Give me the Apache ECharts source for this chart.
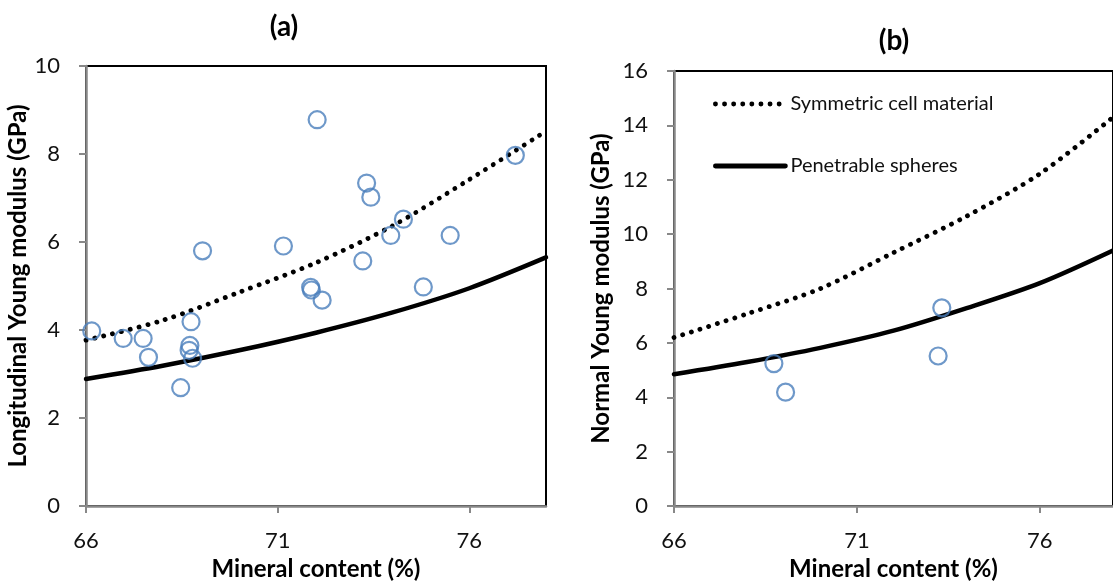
<!DOCTYPE html>
<html><head><meta charset="utf-8">
<script src="https://cdn.jsdelivr.net/npm/echarts@6/dist/echarts.min.js"></script>
<style>html,body{margin:0;padding:0;background:#fff}#c{width:1113px;height:586px}</style>
</head><body><div id="c"></div>
<script>
// Model curves (sampled every 2 % mineral content)
const modelX = [66, 68, 70, 72, 74, 76, 78];
const aSymmetric = [3.77, 4.22, 4.86, 5.53, 6.37, 7.42, 8.52];
const aPenetrable = [2.89, 3.19, 3.54, 3.94, 4.40, 4.95, 5.65];
const bSymmetric = [6.20, 7.07, 8.00, 9.32, 10.66, 12.22, 14.30];
const bPenetrable = [4.85, 5.30, 5.82, 6.45, 7.28, 8.20, 9.40];
// Measurements
const aMeasuredX = [66.15, 66.97, 67.49, 67.63, 68.47, 68.74, 68.71, 68.69, 68.78, 69.04, 71.15, 71.86, 71.88, 72.16, 72.03, 73.22, 73.32, 73.43, 73.95, 74.28, 74.80, 75.50, 77.20];
const aMeasuredY = [3.98, 3.81, 3.81, 3.38, 2.69, 4.19, 3.65, 3.54, 3.36, 5.80, 5.91, 4.97, 4.91, 4.68, 8.78, 5.57, 7.34, 7.02, 6.15, 6.52, 4.98, 6.15, 7.97];
const bMeasuredX = [68.73, 69.05, 73.22, 73.32];
const bMeasuredY = [5.24, 4.19, 5.52, 7.29];
const xTicks = [66, 71, 76];
const titles = ['(a)', '(b)'];
const yNames = ['Longitudinal Young modulus (GPa)', 'Normal Young modulus (GPa)'];
const xName = 'Mineral content (%)';
const legendNames = ['Symmetric cell material', 'Penetrable spheres'];

const FONT = 'Lato';
const pair = (xs, ys) => xs.map((x, i) => [x, ys[i]]);

function xAxisFor(idx) {
  return {
    type: 'value', gridIndex: idx, min: 66, max: 78, interval: 5,
    name: xName, nameLocation: 'middle', nameGap: 47,
    nameTextStyle: {fontFamily: FONT, fontWeight: 'bold', fontSize: 24, color: '#000'},
    axisLine: {show: true, lineStyle: {color: '#888888', width: 2.5}},
    axisTick: {show: true, inside: false, length: 7, customValues: xTicks, lineStyle: {color: '#888888', width: 2}},
    axisLabel: {customValues: xTicks, fontFamily: FONT, fontSize: 22, color: '#111', margin: 24},
    splitLine: {show: false}
  };
}
function yAxisFor(idx, max, gap) {
  return {
    type: 'value', gridIndex: idx, min: 0, max: max, interval: 2,
    name: yNames[idx], nameLocation: 'middle', nameGap: gap,
    nameTextStyle: {fontFamily: FONT, fontWeight: 'bold', fontSize: 24, color: '#000'},
    axisLine: {show: true, lineStyle: {color: '#888888', width: 2.5}},
    axisTick: {show: true, inside: false, length: 7, lineStyle: {color: '#888888', width: 2}},
    axisLabel: {fontFamily: FONT, fontSize: 22, color: '#111', margin: 26},
    splitLine: {show: false}
  };
}
const dotted = {color: '#000', width: 4.8, type: [0.1, 9], cap: 'round'};
const solid = {color: '#000', width: 4.5, type: 'solid', cap: 'round'};
const marker = {color: 'rgba(0,0,0,0)', borderColor: '#4A7EBB', borderWidth: 2.2};

function lineSeries(name, idx, ys, style) {
  return {type: 'line', name: name, xAxisIndex: idx, yAxisIndex: idx, data: pair(modelX, ys),
    showSymbol: false, symbol: 'none', smooth: 0.3, lineStyle: style, itemStyle: {color: '#000'}, z: 2, silent: true};
}
function scatterSeries(idx, xs, ys) {
  return {type: 'scatter', name: 'Measured', xAxisIndex: idx, yAxisIndex: idx, data: pair(xs, ys),
    symbol: 'circle', symbolSize: 17, itemStyle: marker, z: 3};
}

const chart = echarts.init(document.getElementById('c'), null, {renderer: 'canvas'});
chart.setOption({
  animation: false,
  backgroundColor: '#fff',
  title: [
    {text: titles[0], left: 279, top: 8, textAlign: 'center', textStyle: {fontFamily: FONT, fontWeight: 'bold', fontSize: 28, color: '#000'}},
    {text: titles[1], left: 889, top: 22, textAlign: 'center', textStyle: {fontFamily: FONT, fontWeight: 'bold', fontSize: 28, color: '#000'}}
  ],
  legend: {
    data: legendNames, orient: 'vertical', left: 713, top: 94, padding: 0,
    itemWidth: 70, itemHeight: 22, itemGap: 42,
    itemStyle: {opacity: 0},
    lineStyle: {width: 4.8, cap: 'round'},
    textStyle: {fontFamily: FONT, fontSize: 20, color: '#111'},
    selectedMode: false
  },
  grid: [
    {left: 86, top: 66, width: 460, height: 444, show: true, borderColor: '#000', borderWidth: 2, backgroundColor: 'transparent'},
    {left: 674, top: 71, width: 444, height: 442, show: true, borderColor: '#000', borderWidth: 2, backgroundColor: 'transparent'}
  ],
  xAxis: [xAxisFor(0), xAxisFor(1)],
  yAxis: [yAxisFor(0, 10, 48), yAxisFor(1, 16, 61)],
  series: [
    lineSeries(legendNames[0], 0, aSymmetric, dotted),
    lineSeries(legendNames[1], 0, aPenetrable, solid),
    scatterSeries(0, aMeasuredX, aMeasuredY),
    lineSeries(legendNames[0], 1, bSymmetric, dotted),
    lineSeries(legendNames[1], 1, bPenetrable, solid),
    scatterSeries(1, bMeasuredX, bMeasuredY)
  ]
});
</script>
</body></html>
